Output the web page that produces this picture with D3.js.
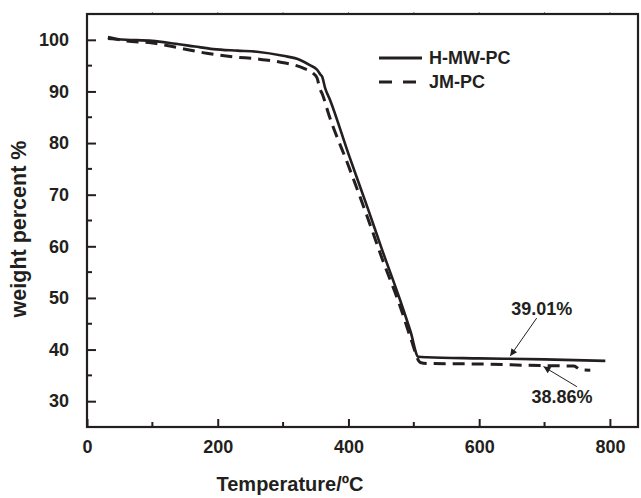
<!DOCTYPE html>
<html>
<head>
<meta charset="utf-8">
<script src="https://cdn.jsdelivr.net/npm/d3@7/dist/d3.min.js"></script>
<style>
  html, body { margin: 0; padding: 0; background: #fff; }
  svg { display: block; }
  text { font-family: "Liberation Sans", Arial, sans-serif; font-weight: bold; fill: #231f20; }
</style>
</head>
<body>
<svg id="chart" width="641" height="498"></svg>
<script>
// ---- data ----
const seriesNames = ["H-MW-PC", "JM-PC"];
const hmwTemp = [32, 60, 100, 132, 165, 193, 230, 260, 300, 326, 341, 352, 357, 360, 364, 372, 400, 430, 451, 479, 495, 507, 520, 600, 700, 793];
const hmwWeight = [100.2, 100.0, 99.8, 99.3, 98.7, 98.2, 97.9, 97.7, 96.9, 96.1, 95.1, 94.2, 93.3, 92.8, 90.8, 88.3, 77.9, 67.2, 59.5, 49.6, 43.5, 38.6, 38.5, 38.3, 38.1, 37.8];
const jmTemp = [32, 60, 100, 142, 183, 224, 260, 290, 331, 345, 352, 356, 360, 370, 400, 430, 451, 479, 495, 510, 520, 600, 693, 745, 755, 770];
const jmWeight = [100.5, 99.8, 99.4, 98.4, 97.4, 96.7, 96.3, 95.8, 94.5, 93.6, 92.6, 90.6, 89.5, 85.5, 75.6, 65.3, 57.8, 48.4, 42.3, 37.5, 37.3, 37.2, 36.9, 36.8, 36.1, 36.0];
const xTicks = [0, 200, 400, 600, 800];
const yTicks = [30, 40, 50, 60, 70, 80, 90, 100];
const annoLabels = ["39.01%", "38.86%"];
const annoText = [[695.7, 47.8], [726.6, 30.9]];
const annoFrom = [[688, 46.1], [749.6, 32.8]];
const annoTo = [[647.5, 38.75], [698.4, 36.7]];

// ---- layout ----
const svg = d3.select("#chart");
const L = 87, R = 638, T = 14, B = 427;
const x = d3.scaleLinear().domain([0, 843]).range([L, R]);
const y = d3.scaleLinear().domain([25, 105]).range([B, T]);
const ink = "#231f20";

svg.append("defs").append("marker")
  .attr("id", "arrow").attr("viewBox", "0 0 10 10").attr("refX", 10).attr("refY", 5)
  .attr("markerWidth", 10).attr("markerHeight", 7).attr("markerUnits", "userSpaceOnUse")
  .attr("orient", "auto")
  .append("path").attr("d", "M0,0 L10,5 L0,10 Z").attr("fill", ink);

// minor ticks
const minorX = d3.range(100, 843, 200);
const minorY = d3.range(35, 105, 10);

// axes (ticks inward)
const xAxis = d3.axisBottom(x).tickValues(xTicks).tickSize(-8).tickPadding(13).tickFormat(d3.format("d"));
const yAxis = d3.axisLeft(y).tickValues(yTicks).tickSize(-9).tickPadding(18).tickFormat(d3.format("d"));

const gx = svg.append("g").attr("transform", `translate(0,${B})`).call(xAxis);
const gy = svg.append("g").attr("transform", `translate(${L},0)`).call(yAxis);
[gx, gy].forEach(g => {
  g.select(".domain").remove();
  g.selectAll(".tick line").attr("stroke", ink).attr("stroke-width", 2);
  g.selectAll(".tick text").style("font-size", "18px").attr("fill", ink)
    .style("font-family", "'Liberation Sans', Arial, sans-serif").style("font-weight", "bold");
});

svg.append("g").selectAll("line").data(minorX).join("line")
  .attr("x1", d => x(d)).attr("x2", d => x(d)).attr("y1", B).attr("y2", B - 5)
  .attr("stroke", ink).attr("stroke-width", 2);
svg.append("g").selectAll("line").data(minorY).join("line")
  .attr("x1", L).attr("x2", L + 5).attr("y1", d => y(d)).attr("y2", d => y(d))
  .attr("stroke", ink).attr("stroke-width", 2);
// tiny top ticks
svg.append("g").selectAll("line").data(d3.range(100, 843, 100)).join("line")
  .attr("x1", d => x(d)).attr("x2", d => x(d)).attr("y1", T).attr("y2", T - 2)
  .attr("stroke", "#888").attr("stroke-width", 1);

// frame
svg.append("rect").attr("x", L).attr("y", T).attr("width", R - L).attr("height", B - T)
  .attr("fill", "none").attr("stroke", ink).attr("stroke-width", 2.2);

// curves
const line = d3.line().x(d => x(d[0])).y(d => y(d[1])).curve(d3.curveMonotoneX);
const hmw = hmwTemp.map((t, i) => [t, hmwWeight[i]]);
const jm = jmTemp.map((t, i) => [t, jmWeight[i]]);
svg.append("path").attr("d", line(jm)).attr("fill", "none").attr("stroke", ink)
  .attr("stroke-width", 3).attr("stroke-dasharray", "12,7");
svg.append("path").attr("d", line(hmw)).attr("fill", "none").attr("stroke", ink)
  .attr("stroke-width", 2.6);

// legend
const lg = svg.append("g");
[0, 1].forEach(i => {
  const ly = 58 + i * 24;
  lg.append("line").attr("x1", 379).attr("x2", 422).attr("y1", ly).attr("y2", ly)
    .attr("stroke", ink).attr("stroke-width", 3)
    .attr("stroke-dasharray", i === 1 ? "13,11" : null);
  lg.append("text").attr("x", 429).attr("y", ly).attr("dominant-baseline", "central")
    .style("font-size", "18px").text(seriesNames[i]);
});

// annotations
annoLabels.forEach((lab, i) => {
  svg.append("line")
    .attr("x1", x(annoFrom[i][0])).attr("y1", y(annoFrom[i][1]))
    .attr("x2", x(annoTo[i][0])).attr("y2", y(annoTo[i][1]))
    .attr("stroke", ink).attr("stroke-width", 1).attr("marker-end", "url(#arrow)");
  svg.append("text").attr("x", x(annoText[i][0])).attr("y", y(annoText[i][1]))
    .attr("text-anchor", "middle").attr("dominant-baseline", "central")
    .style("font-size", "18px").text(lab);
});

// axis titles
svg.append("text").attr("x", 290).attr("y", 484).attr("text-anchor", "middle")
  .attr("dominant-baseline", "central").style("font-size", "20px").text("Temperature/ºC");
svg.append("text").attr("transform", "translate(19,229) rotate(-90)").attr("text-anchor", "middle")
  .attr("dominant-baseline", "central").style("font-size", "21.5px").text("weight percent %");
</script>
</body>
</html>
